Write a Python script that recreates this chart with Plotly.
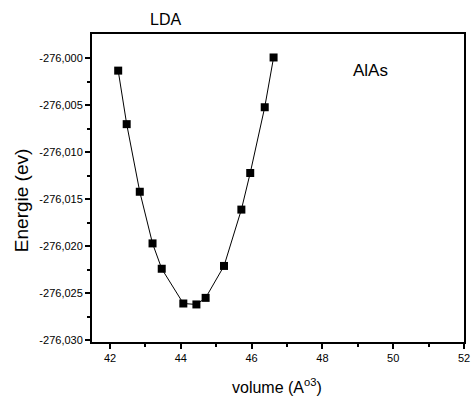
import plotly.graph_objects as go

volume = [42.23, 42.47, 42.84, 43.20, 43.46, 44.07, 44.44, 44.70, 45.22, 45.71, 45.96, 46.37, 46.62]
energy = [-276.0013, -276.0070, -276.0142, -276.0197, -276.0224, -276.0261, -276.0262,
          -276.0255, -276.0221, -276.0161, -276.0122, -276.0052, -275.9999]

x_ticks = [42, 44, 46, 48, 50, 52]
y_ticks = [-276.030, -276.025, -276.020, -276.015, -276.010, -276.005, -276.000]
y_ticktext = ["-276,030", "-276,025", "-276,020", "-276,015", "-276,010", "-276,005", "-276,000"]

FONT = "Arial, Liberation Sans, sans-serif"

L, R, T, B = 92, 5, 34, 54
W, H = 475, 396
pw, ph = W - L - R, H - T - B


def px(x):
    return (x - L) / pw


def py(y):
    return (H - B - y) / ph


fig = go.Figure()
fig.add_trace(go.Scatter(
    x=volume, y=energy, mode="lines+markers",
    line=dict(color="black", width=1),
    marker=dict(symbol="square", size=8, color="black"),
    showlegend=False,
))

fig.update_layout(
    width=W, height=H,
    margin=dict(l=L, r=R, t=T, b=B),
    paper_bgcolor="white", plot_bgcolor="white",
    font=dict(family=FONT, color="black"),
    xaxis=dict(
        range=[41.49, 52], tickvals=x_ticks, ticks="outside", ticklen=5, tickwidth=2,
        tickcolor="black", showgrid=False, zeroline=False,
        showline=True, linecolor="black", linewidth=2, mirror=True,
        tickfont=dict(size=11, family=FONT),
        minor=dict(dtick=1, tick0=42, ticks="outside", ticklen=3, tickwidth=1.5, tickcolor="black", showgrid=False),
    ),
    yaxis=dict(
        range=[-276.0302, -275.9974], tickvals=y_ticks, ticktext=y_ticktext,
        ticks="outside", ticklen=5, tickwidth=2, tickcolor="black",
        showgrid=False, zeroline=False,
        showline=True, linecolor="black", linewidth=2, mirror=True,
        tickfont=dict(size=11, family=FONT),
        minor=dict(tickvals=[-276.0275, -276.0225, -276.0175, -276.0125, -276.0075, -276.0025],
                   ticks="outside", ticklen=3, tickwidth=1.5, tickcolor="black", showgrid=False),
    ),
    annotations=[
        dict(text="LDA", x=px(167), y=py(19), xref="paper", yref="paper", showarrow=False,
             xanchor="center", yanchor="middle", font=dict(size=16, family=FONT)),
        dict(text="AlAs", x=px(375), y=py(70), xref="paper", yref="paper", showarrow=False,
             xanchor="center", yanchor="middle", font=dict(size=17, family=FONT)),
        dict(text="Energie (ev)", x=px(20), y=py(200), xref="paper", yref="paper", showarrow=False,
             textangle=-90, xanchor="center", yanchor="middle", font=dict(size=19, family=FONT)),
        dict(text="volume (A<sup>o3</sup>)", x=px(280), y=py(386), xref="paper", yref="paper",
             showarrow=False, xanchor="center", yanchor="middle", font=dict(size=16, family=FONT)),
    ],
)

fig.write_html("out.html")
